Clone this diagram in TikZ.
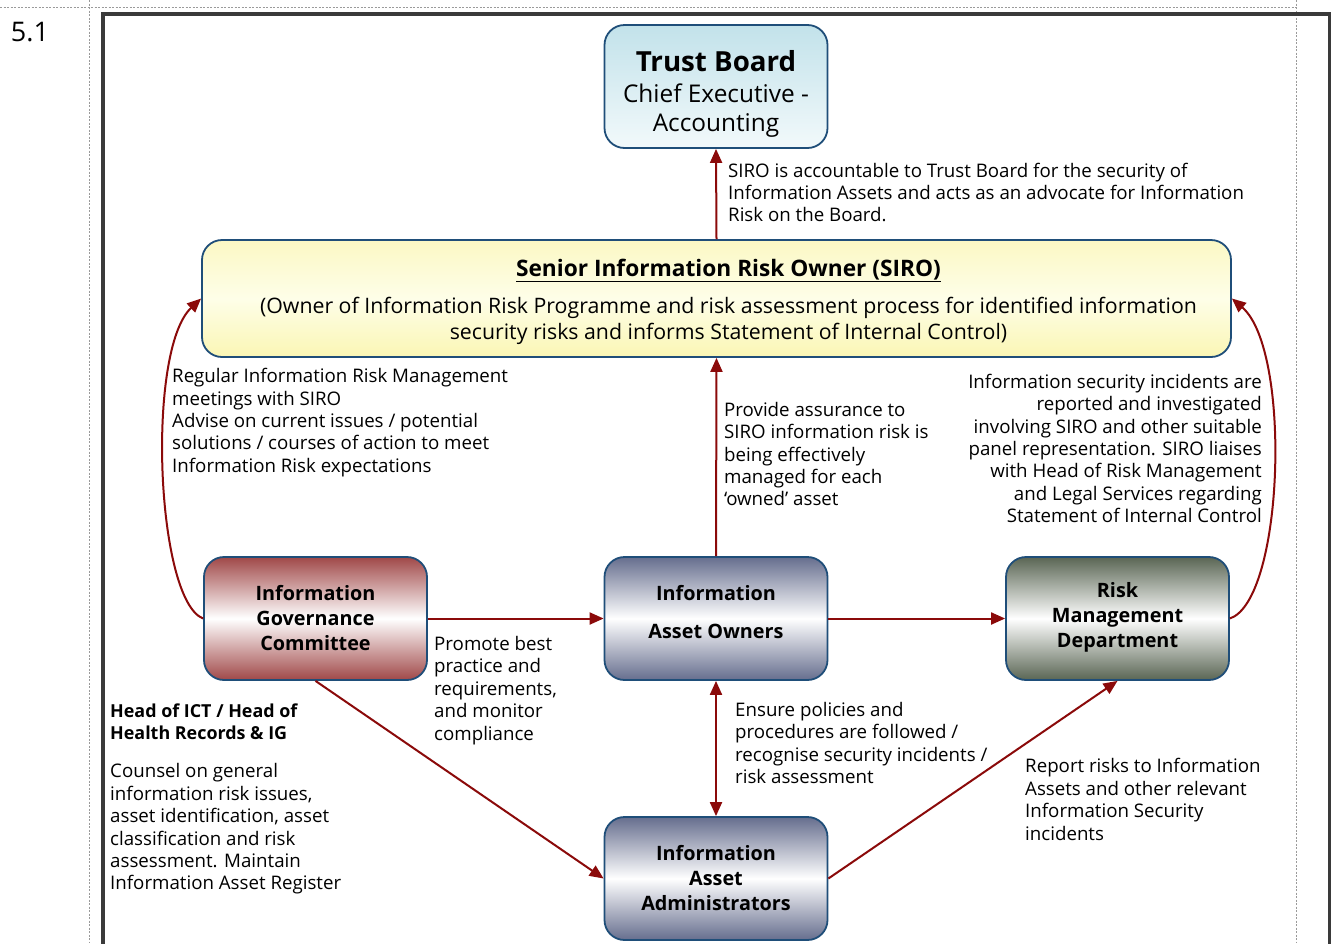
\documentclass[tikz,border=0pt]{standalone}
\usepackage{fontspec}
\setmainfont{Open Sans}
\usetikzlibrary{arrows.meta}

\definecolor{arrowred}{HTML}{8B0A0A}
\definecolor{boxblue}{HTML}{1F4E79}
\definecolor{framegray}{HTML}{3A3A3A}
\definecolor{dashgray}{HTML}{9A9A9A}
\definecolor{boardtop}{HTML}{C2E2EA}
\definecolor{boardbot}{HTML}{F2F9FB}
\definecolor{sirotop}{HTML}{FBF8C4}
\definecolor{siromid}{HTML}{FEFEE8}
\definecolor{sirobot}{HTML}{FAF6B4}
\definecolor{igcshade}{HTML}{A04848}
\definecolor{iaoshade}{HTML}{666E8E}
\definecolor{rmdshade}{HTML}{5A6654}

\newcommand\bodyfont{\fontsize{18.7}{22.4}\selectfont}
\newcommand\boxfont{\fontsize{19.8}{25}\selectfont\bfseries}

\begin{document}
\begin{tikzpicture}[x=1pt,y=-1pt,
  box/.style={draw=boxblue, line width=1.8pt, rounded corners=20pt,
    minimum width=223pt, minimum height=123pt, inner sep=0pt,
    align=center, font=\boxfont},
  igcbox/.style={box, top color=igcshade, bottom color=igcshade, middle color=white},
  iaobox/.style={box, top color=iaoshade, bottom color=iaoshade, middle color=white},
  rmdbox/.style={box, top color=rmdshade, bottom color=rmdshade, middle color=white},
  note/.style={inner sep=0pt, font=\bodyfont, align=left},
  conn/.style={draw=arrowred, line width=2pt, -{Triangle[length=14pt,width=12pt]}},
  guide/.style={dashgray, line width=0.8pt, dash pattern=on 2pt off 1.5pt}]

\useasboundingbox (0,0) rectangle (1331,943);
\clip (0,0) rectangle (1331,943);
\fill[white] (0,0) rectangle (1331,943);

% page guides and frame
\draw[guide] (0,7) -- (1296,7);
\draw[guide] (89,0) -- (89,943);
\draw[guide] (1296,0) -- (1296,943);
\draw[framegray, line width=4pt] (102.5,990) -- (102.5,13.5) -- (1329.5,13.5) -- (1329.5,990);
\node[inner sep=0pt, font=\fontsize{27}{30}\selectfont] (num) at (30,32) {5.1};

% boxes
\node[box, top color=boardtop, bottom color=boardbot]
  (board) at (716,86.5) {};
\node[align=center, inner sep=0pt, font=\fontsize{24.4}{29.5}\selectfont] (boardtxt) at (716,94)
  {{\fontsize{27.7}{31}\selectfont\bfseries Trust Board}\\[1pt]Chief Executive -\\Accounting};

\node[box, minimum width=1029pt, minimum height=117pt,
  top color=sirotop, bottom color=sirobot, middle color=siromid] (siro) at (716.5,298.5) {};
\node[align=center, inner sep=0pt, font=\fontsize{21.3}{26}\selectfont] (sirotxt) at (728.5,302)
  {{\fontsize{22.7}{26}\selectfont\bfseries\underline{Senior Information Risk Owner (SIRO)}}\\[11pt]
   (Owner of Information Risk Programme and risk assessment process for identified information\\
   security risks and informs Statement of Internal Control)};

\node[igcbox] (igc) at (315.5,618.5) {};
\node[align=center, inner sep=0pt, font=\boxfont] (igctxt) at (315.5,618) {Information\\Governance\\Committee};

\node[iaobox] (iao) at (716,618.5) {};
\node[align=center, inner sep=0pt, font=\boxfont] (iaotxt) at (716,612) {Information\\[13pt]Asset Owners};

\node[rmdbox] (rmd) at (1117.5,618.5) {};
\node[align=center, inner sep=0pt, font=\boxfont] (rmdtxt) at (1117.5,617) {Risk\\Management\\Department};

\node[iaobox] (iaa) at (716,878.5) {};
\node[align=center, inner sep=0pt, font=\boxfont] (iaatxt) at (716,878.5) {Information\\Asset\\Administrators};

% connectors
\draw[conn] (siro.north) -- (board.south);
\draw[conn] (iao.north) -- (siro.south);
\draw[conn] (igc.east) -- (iao.west);
\draw[conn] (iao.east) -- (rmd.west);
\draw[conn, {Triangle[length=14pt,width=12pt]}-{Triangle[length=14pt,width=12pt]}] (iao.south) -- (iaa.north);
\draw[conn] (igc.south) -- (iaa.west);
\draw[conn] (iaa.east) -- (rmd.south);
\draw[conn] (igc.west) .. controls (156,600) and (146,350) .. (siro.west);
\draw[conn] (rmd.east) .. controls (1284,600) and (1292,350) .. (siro.east);

% annotations
\node[note, anchor=west] (n1) at (728,192.5)
  {SIRO is accountable to Trust Board for the security of\\
   Information Assets and acts as an advocate for Information\\
   Risk on the Board.};
\node[note, anchor=west] (n2) at (172,422.5)
  {Regular Information Risk Management\\
   meetings with SIRO\\
   Advise on current issues / potential\\
   solutions / courses of action to meet\\
   Information Risk expectations};
\node[note, anchor=west] (n3) at (724,454)
  {Provide assurance to\\
   SIRO information risk is\\
   being effectively\\
   managed for each\\
   ‘owned’ asset};
\node[note, anchor=east, align=right] (n4) at (1262,448.5)
  {Information security incidents are\\
   reported and investigated\\
   involving SIRO and other suitable\\
   panel representation. SIRO liaises\\
   with Head of Risk Management\\
   and Legal Services regarding\\
   Statement of Internal Control};
\node[note, anchor=west] (n5) at (434,690.5)
  {Promote best\\
   practice and\\
   requirements,\\
   and monitor\\
   compliance};
\node[note, anchor=west, font=\fontsize{17.9}{22.4}\selectfont\bfseries] (n6) at (110,722)
  {Head of ICT / Head of\\
   Health Records \& IG};
\node[note, anchor=west] (n7) at (110,829)
  {Counsel on general\\
   information risk issues,\\
   asset identification, asset\\
   classification and risk\\
   assessment. Maintain\\
   Information Asset Register};
\node[note, anchor=west] (n8) at (735,743)
  {Ensure policies and\\
   procedures are followed /\\
   recognise security incidents /\\
   risk assessment};
\node[note, anchor=west] (n9) at (1025,799.5)
  {Report risks to Information\\
   Assets and other relevant\\
   Information Security\\
   incidents};

\end{tikzpicture}
\end{document}
